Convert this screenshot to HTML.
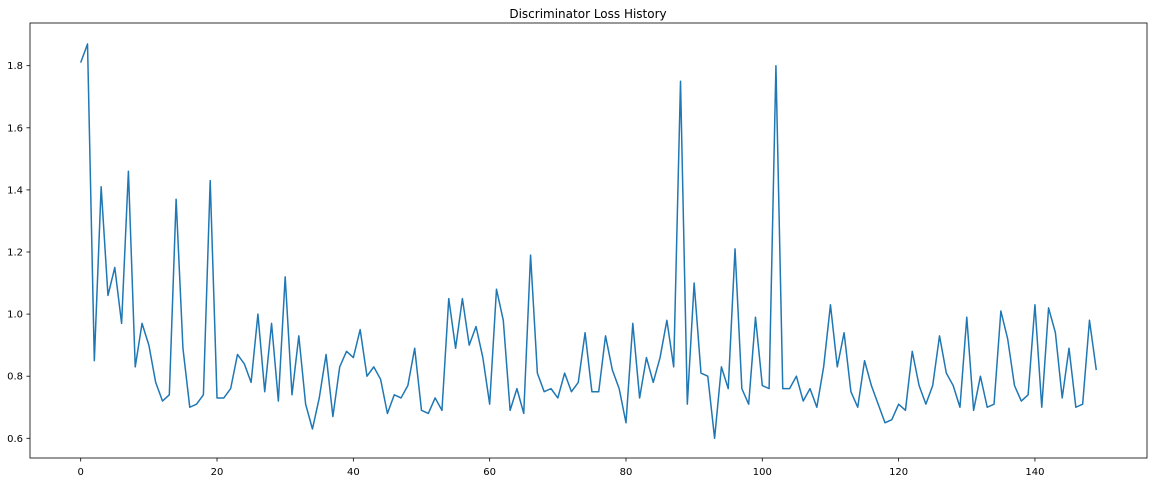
<!DOCTYPE html>
<html><head><meta charset="utf-8"><style>
html,body{margin:0;padding:0;background:#fff;}
svg{display:block;font-family:"DejaVu Sans","Liberation Sans",sans-serif;}
</style></head><body>
<svg id="chart" width="1156" height="482">
<text x="588" y="18" font-size="12" text-anchor="middle" fill="#000">Discriminator Loss History</text>
<g id="axes"></g>
<path id="line" fill="none" stroke="#1f77b4" stroke-width="1.5" stroke-linejoin="round"></path>
<rect x="30" y="23" width="1117" height="435" fill="none" stroke="#000" stroke-width="0.8"></rect>
</svg>
<script>
const lossValues = [1.81,1.87,0.85,1.41,1.06,1.15,0.97,1.46,0.83,0.97,0.90,0.78,0.72,0.74,1.37,0.89,0.70,0.71,0.74,1.43,
0.73,0.73,0.76,0.87,0.84,0.78,1.00,0.75,0.97,0.72,1.12,0.74,0.93,0.71,0.63,0.73,0.87,0.67,0.83,0.88,
0.86,0.95,0.80,0.83,0.79,0.68,0.74,0.73,0.77,0.89,0.69,0.68,0.73,0.69,1.05,0.89,1.05,0.90,0.96,0.86,
0.71,1.08,0.98,0.69,0.76,0.68,1.19,0.81,0.75,0.76,0.73,0.81,0.75,0.78,0.94,0.75,0.75,0.93,0.82,0.76,
0.65,0.97,0.73,0.86,0.78,0.86,0.98,0.83,1.75,0.71,1.10,0.81,0.80,0.60,0.83,0.76,1.21,0.76,0.71,0.99,
0.77,0.76,1.80,0.76,0.76,0.80,0.72,0.76,0.70,0.83,1.03,0.83,0.94,0.75,0.70,0.85,0.77,0.71,0.65,0.66,
0.71,0.69,0.88,0.77,0.71,0.77,0.93,0.81,0.77,0.70,0.99,0.69,0.80,0.70,0.71,1.01,0.92,0.77,0.72,0.74,
1.03,0.70,1.02,0.94,0.73,0.89,0.70,0.71,0.98,0.82];
const xTicks = [0,20,40,60,80,100,120,140];
const yTicks = [0.6,0.8,1.0,1.2,1.4,1.6,1.8];
const xScale = v => 80.7 + v * 6.816;
const yScale = v => 438.3 - (v - 0.6) * (372.6/1.2);
const NS = "http://www.w3.org/2000/svg";
const axes = document.getElementById('axes');
xTicks.forEach(t => {
  const x = xScale(t);
  const l = document.createElementNS(NS,'line');
  l.setAttribute('x1',x);l.setAttribute('x2',x);l.setAttribute('y1',458);l.setAttribute('y2',461.5);
  l.setAttribute('stroke','#000');l.setAttribute('stroke-width','0.8');
  
  
  axes.appendChild(l);
  const tx = document.createElementNS(NS,'text');
  tx.setAttribute('x',x);tx.setAttribute('y',475);tx.setAttribute('font-size','10');tx.setAttribute('text-anchor','middle');
  tx.textContent = t;
  
  
  axes.appendChild(tx);
});
yTicks.forEach(t => {
  const y = yScale(t);
  const l = document.createElementNS(NS,'line');
  l.setAttribute('x1',26.5);l.setAttribute('x2',30);l.setAttribute('y1',y);l.setAttribute('y2',y);
  l.setAttribute('stroke','#000');l.setAttribute('stroke-width','0.8');
  
  
  axes.appendChild(l);
  const tx = document.createElementNS(NS,'text');
  tx.setAttribute('x',23);tx.setAttribute('y',y+3.5);tx.setAttribute('font-size','10');tx.setAttribute('text-anchor','end');
  tx.textContent = t.toFixed(1);
  
  
  axes.appendChild(tx);
});
document.getElementById('line').setAttribute('d',
  lossValues.map((v,i)=>(i?'L':'M')+xScale(i).toFixed(2)+','+yScale(v).toFixed(2)).join(''));
</script>
</body></html>
